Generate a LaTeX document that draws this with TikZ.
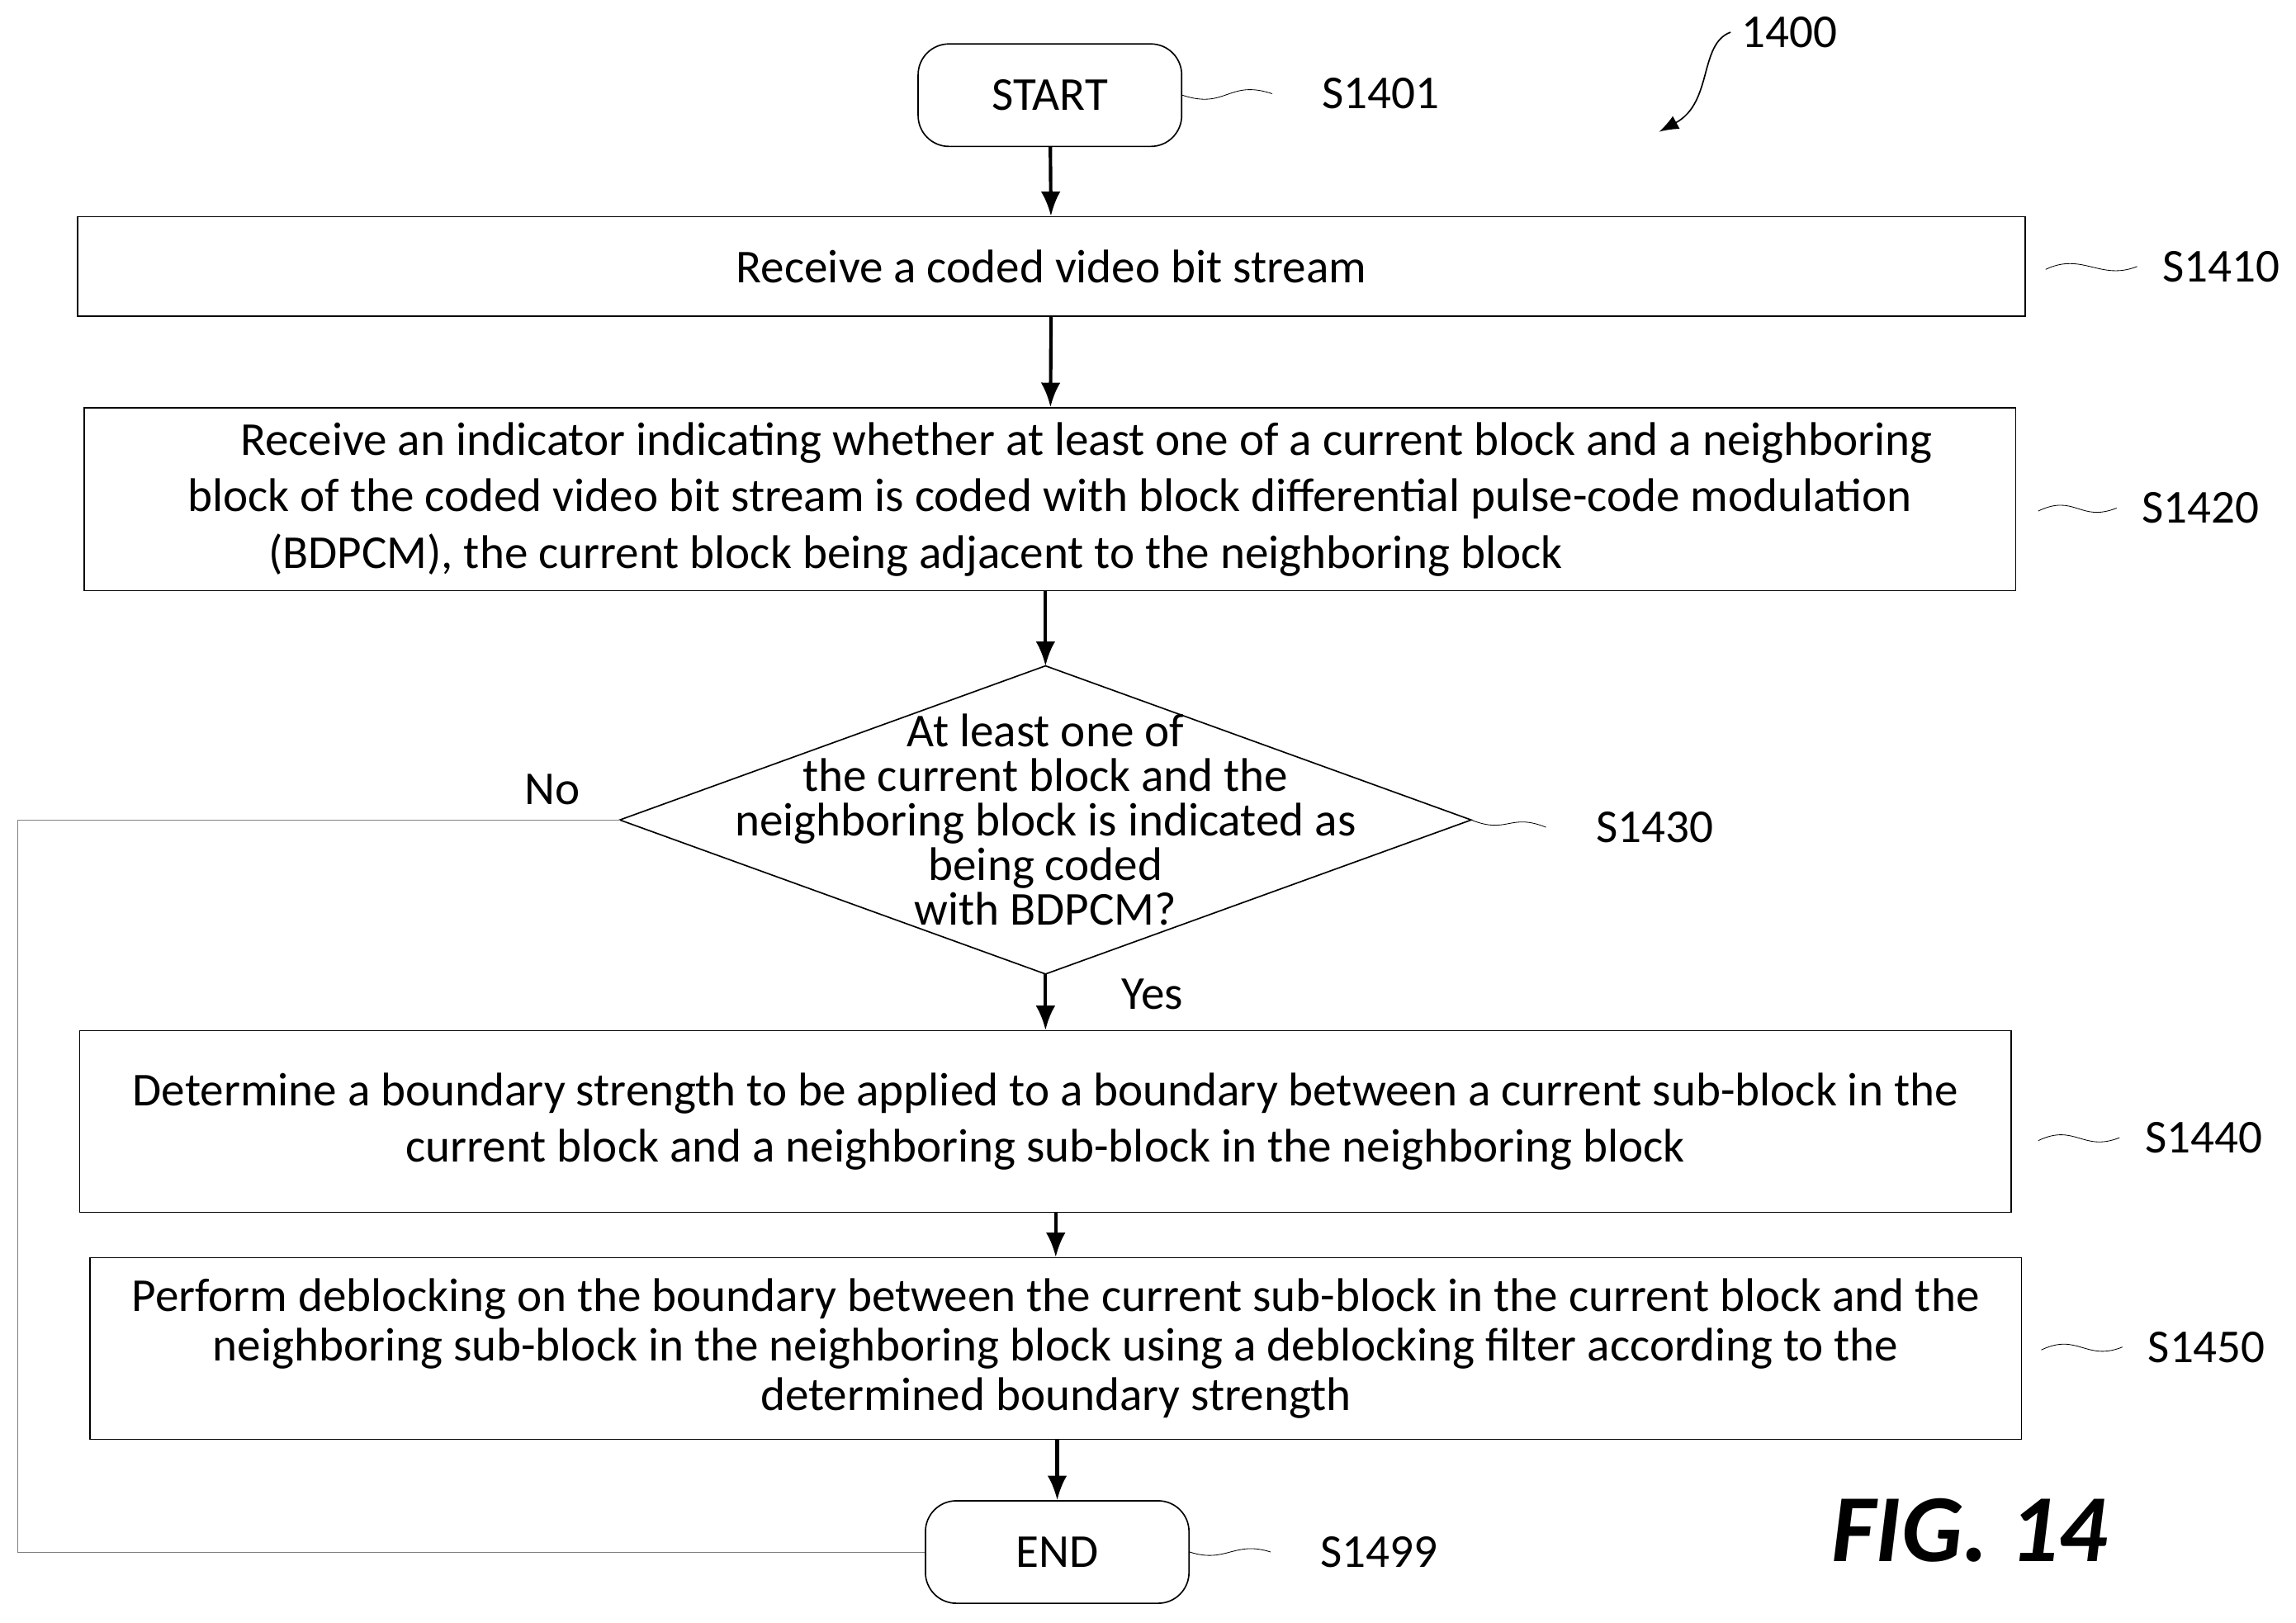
\documentclass[tikz,border=0pt]{standalone}
\usepackage{fontspec}
\setmainfont{Carlito}
\usetikzlibrary{positioning,arrows.meta}

\begin{document}
\begin{tikzpicture}[x=0.3mm,y=-0.3mm,
    every node/.style={font=\fontsize{27.5}{33}\selectfont},
    box/.style={draw, thick, align=center, inner sep=0pt},
    term/.style={draw, thick, rounded corners=18pt, minimum width=54mm, minimum height=21mm},
    flow/.style={draw, line width=2pt, -{Latex[length=5mm,width=4mm]}},
    squig/.style={draw, thin}]
    \useasboundingbox (0,0) rectangle (1568,1108);

    \node[term] (start) at (717,65) {START};
    \node[box, minimum width=399mm, minimum height=20.4mm] (recv) at (718,182) {Receive a coded video bit stream};
    \node[box, minimum width=395.7mm, minimum height=37.5mm] (ind) at (717,341)
        {\hspace*{1.5cm}Receive an indicator indicating whether at least one of a current block and a neighboring\\
         block of the coded video bit stream is coded with block differential pulse-code modulation\\
         (BDPCM), the current block being adjacent to the neighboring block\hspace*{5.5cm}};
    \node[align=center, minimum width=174.3mm, minimum height=63mm, inner sep=0pt,
          font=\fontsize{27.5}{26}\selectfont] (dec) at (714,560)
        {At least one of\\the current block and the\\neighboring block is indicated as\\being coded\\with BDPCM?};
    \draw[thick] (dec.west) -- (dec.north) -- (dec.east) -- (dec.south) -- cycle;
    \node[box, minimum width=395.7mm, minimum height=37.2mm] (bs) at (714,766)
        {Determine a boundary strength to be applied to a boundary between a current sub-block in the\\
         current block and a neighboring sub-block in the neighboring block};
    \node[box, minimum width=395.7mm, minimum height=37.2mm, font=\fontsize{27.5}{29}\selectfont] (dbk) at (721,921)
        {Perform deblocking on the boundary between the current sub-block in the current block and the\\
         neighboring sub-block in the neighboring block using a deblocking filter according to the\\
         determined boundary strength};
    \node[term] (end) at (722,1060) {END};

    % step labels
    \node (l1401) at (943,64) {S1401};
    \node (l1410) at (1517,182) {S1410};
    \node (l1420) at (1503,347) {S1420};
    \node (l1430) at (1130,565) {S1430};
    \node (l1440) at (1505,777) {S1440};
    \node (l1450) at (1507,920) {S1450};
    \node (l1499) at (942,1060) {S1499};
    \node (fig) at (1222,22) {1400};
    \node[font=\fontsize{56}{58}\selectfont\bfseries\itshape] (figno) at (1345,1045) {FIG. 14};
    \node (no) at (377,539) {No};
    \node (yes) at (787,679) {Yes};

    \draw[flow] (start) -- (recv);
    \draw[flow] (recv) -- (ind);
    \draw[flow] (ind.south -| dec.north) -- (dec.north);
    \draw[flow] (dec.south) -- (bs.north -| dec.south);
    \draw[flow] (bs.south -| dbk.north) -- (dbk);
    \draw[flow] (dbk.south -| end.north) -- (end);
    \draw[gray] (dec.west) -- (12,560) -- (12,1060) -- (end.west);

    % squiggles
    \draw[squig] (start.east) .. controls +(30,10) and +(-30,-10) .. ([xshift=-9mm]l1401.west);
    \draw[squig] (1397,184) .. controls +(25,-12) and +(-25,10) .. ([xshift=-4mm]l1410.west);
    \draw[squig] (1392,349) .. controls +(25,-12) and +(-25,10) .. ([xshift=-4mm]l1420.west);
    \draw[squig] (dec.east) .. controls +(25,10) and +(-25,-10) .. ([xshift=-9mm]l1430.west);
    \draw[squig] (1392,779) .. controls +(25,-12) and +(-25,10) .. ([xshift=-4mm]l1440.west);
    \draw[squig] (1394,922) .. controls +(25,-12) and +(-25,10) .. ([xshift=-4mm]l1450.west);
    \draw[squig] (end.east) .. controls +(25,8) and +(-25,-8) .. ([xshift=-9mm]l1499.west);
    \draw[thick, -{Latex[length=4mm]}] ([xshift=-1mm]fig.west) .. controls (1160,30) and (1170,70) .. (1133,90);
\end{tikzpicture}
\end{document}
